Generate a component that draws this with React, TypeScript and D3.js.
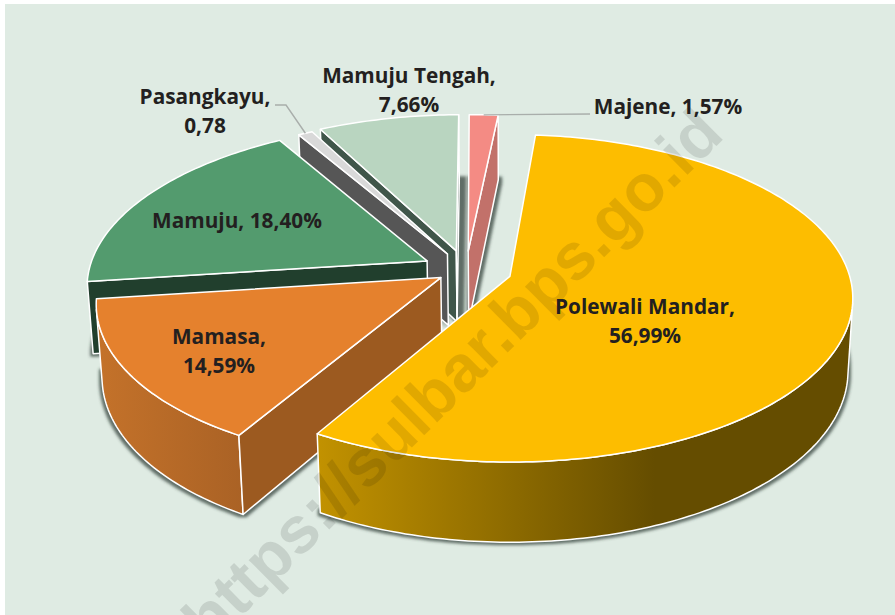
import * as d3 from "d3";

const names = ["Polewali Mandar", "Mamasa", "Mamuju", "Pasangkayu", "Mamuju Tengah", "Majene"];
const values = [56.99, 14.59, 18.4, 0.78, 7.66, 1.57];
const explode = [0.136, 0.088, 0.13, 0.116, 0.125, 0.12];
const topColors = ["#fdbd00", "#e5812d", "#539b6e", "#d9d9d9", "#b9d5c0", "#f48b84"];
const faceColors = ["#c09000", "#9c5a20", "#213f2d", "#565656", "#40564a", "#c2716a"];
const wallLeft = ["#c29200", "#c4722a", "#2c5a3e", "#565656", "#7b9383", "#c2716a"];
const wallRight = ["#654d00", "#aa6225", "#2c5a3e", "#565656", "#7b9383", "#c2716a"];
const wallStop = [0.63, 1, 1, 1, 1, 1];
const shadowShift = [0, 0, 0, 0, 4, 1];
// back to front
const drawOrder = [4, 5, 3, 2, 1, 0];

const labels = [
  { lines: ["Polewali Mandar,", "56,99%"], x: 645, y: 314 },
  { lines: ["Mamasa,", "14,59%"], x: 219, y: 344 },
  { lines: ["Mamuju, 18,40%"], x: 237, y: 228 },
  { lines: ["Pasangkayu,", "0,78"], x: 205, y: 104 },
  { lines: ["Mamuju Tengah,", "7,66%"], x: 409, y: 83 },
  { lines: ["Majene, 1,57%"], x: 668, y: 114 },
];

const width = 895;
const height = 615;
const startDeg = 4.9;

// perspective of the pie plane, fitted to the picture
const cx = 510;
const cy = 277;
const A = 340;
const B = 161;
const k = 0.134;
const depth = 0.014;
const nadirY = 5230;
const centerU = -0.13;
const centerV = -0.045;

type Pt = [number, number];

const project = (u: number, v: number, z: number): Pt => {
  const w = 1 - k * v + z * depth;
  return [cx + (A * u) / w, cy + (B * v + z * depth * nadirY) / w];
};

const toPath = (pts: Pt[]) => (d3.line()(pts) as string) + "Z";

const arcs = d3
  .pie<number>()
  .sort(null)
  .startAngle((startDeg * Math.PI) / 180)
  .endAngle((startDeg * Math.PI) / 180 + 2 * Math.PI)(values);

const slices = arcs.map((arc, i) => {
  const mid = (arc.startAngle + arc.endAngle) / 2;
  const ou = centerU + explode[i] * Math.sin(mid);
  const ov = centerV - explode[i] * Math.cos(mid);
  const n = Math.max(4, Math.round((arc.endAngle - arc.startAngle) * 60));
  const angles = d3.range(n + 1).map((j) => arc.startAngle + ((arc.endAngle - arc.startAngle) * j) / n);
  const rim = (a: number, z: number) => project(ou + Math.sin(a), ov - Math.cos(a), z);
  const apexTop = project(ou, ov, 0);
  const apexBottom = project(ou, ov, 1);
  const rimTop = angles.map((a) => rim(a, 0));
  const rimBottom = angles.map((a) => rim(a, 1));

  const top = [apexTop, ...rimTop];
  const bottom = [apexBottom, ...rimBottom];

  const startFace: Pt[] = [apexTop, rimTop[0], rimBottom[0], apexBottom];
  const endFace: Pt[] = [rimTop[n], apexTop, apexBottom, rimBottom[n]];
  const faces = [startFace, endFace].filter((q) => d3.polygonArea(q) > 0);

  const visible = d3.range(n).filter((j) =>
    d3.polygonArea([rimTop[j], rimTop[j + 1], rimBottom[j + 1], rimBottom[j]]) > 0
  );
  let wall: Pt[] | null = null;
  if (visible.length) {
    const from = visible[0];
    const to = visible[visible.length - 1] + 1;
    wall = [...rimTop.slice(from, to + 1), ...rimBottom.slice(from, to + 1).reverse()];
  }
  const midTop = rim(mid, 0);
  return { i, top, bottom, faces, wall, midTop };
});

export default function App() {
  return (
    <svg
      width={width}
      height={height}
      viewBox={`0 0 ${width} ${height}`}
      style={{ position: "absolute", left: 0, top: 0, background: "#fff" }}
    >
      <defs>
        <filter id="wallShadow" x="-20%" y="-20%" width="140%" height="140%">
          <feMorphology operator="dilate" radius="3" />
          <feGaussianBlur stdDeviation="1.6" />
        </filter>
        {slices.map((s) => {
          if (!s.wall) return null;
          const [x0, x1] = d3.extent(s.wall, (p) => p[0]) as [number, number];
          return (
            <linearGradient key={s.i} id={`wall${s.i}`} gradientUnits="userSpaceOnUse" x1={x0} x2={x1} y1={0} y2={0}>
              <stop offset="0" stopColor={wallLeft[s.i]} />
              <stop offset={wallStop[s.i]} stopColor={wallRight[s.i]} />
            </linearGradient>
          );
        })}
      </defs>
      <rect x={5} y={4} width={width - 5} height={height - 4} fill="#dfebe3" />

      {drawOrder.map((idx) => {
        const s = slices[idx];
        return (
          <g key={names[idx]} stroke="#fff" strokeWidth={1.5} strokeLinejoin="round">
            <path
              d={toPath(s.bottom)}
              transform={`translate(${shadowShift[idx]},0)`}
              fill="#36433c"
              fillOpacity={0.75}
              stroke="none"
              filter="url(#wallShadow)"
            />
            {s.wall && <path d={toPath(s.wall)} fill={`url(#wall${idx})`} />}
            {s.faces.map((f, j) => (
              <path key={j} d={toPath(f)} fill={faceColors[idx]} />
            ))}
            <path d={toPath(s.top)} fill={topColors[idx]} />
          </g>
        );
      })}

      <text
        transform="translate(468,392) rotate(-44.7)"
        textAnchor="middle"
        fontFamily="Liberation Sans"
        fontWeight="bold"
        fontSize={66}
        fill="#000"
        fillOpacity={0.11}
      >
        https://sulbar.bps.go.id
      </text>

      <g fill="none" stroke="#a9aeab" strokeWidth={1.4}>
        <path d={d3.line()([[labels[3].x + 70, labels[3].y + 1], [labels[3].x + 81, labels[3].y + 1], slices[3].midTop]) as string} />
        <path d={d3.line()([slices[5].midTop, [labels[5].x - 78, labels[5].y]]) as string} />
      </g>

      <g fontFamily="Open Sans" fontWeight="bold" fontSize={20.8} fill="#231f20" textAnchor="middle">
        {labels.map((l) =>
          l.lines.map((t, j) => (
            <text key={t} x={l.x} y={l.y + j * 29}>
              {t}
            </text>
          ))
        )}
      </g>
    </svg>
  );
}
